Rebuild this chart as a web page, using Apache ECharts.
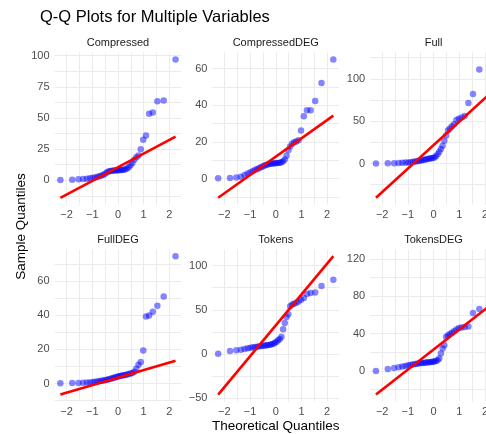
<!DOCTYPE html>
<html><head><meta charset="utf-8">
<script src="https://cdn.jsdelivr.net/npm/echarts@6/dist/echarts.min.js"></script>
<style>html,body{margin:0;padding:0;background:#fff}#c{width:486px;height:434px}</style>
</head><body><div id="c"></div>
<script>
// ---------- data ----------
const panelNames = ['Compressed', 'CompressedDEG', 'Full', 'FullDEG', 'Tokens', 'TokensDEG'];

// theoretical normal quantiles for n = 40 samples
const theoretical = [-2.241, -1.780, -1.534, -1.356, -1.213, -1.092, -0.984, -0.887, -0.798, -0.714,
  -0.636, -0.561, -0.489, -0.419, -0.352, -0.286, -0.221, -0.157, -0.094, -0.031,
  0.031, 0.094, 0.157, 0.221, 0.286, 0.352, 0.419, 0.489, 0.561, 0.636,
  0.714, 0.798, 0.887, 0.984, 1.092, 1.213, 1.356, 1.534, 1.780, 2.241];

const compressed = [0.3, 0.5, 0.8, 1.0, 1.3, 1.6, 2.0, 2.3, 2.8, 3.2, 3.8, 4.5, 5.5, 6.5, 7.2, 7.5, 7.7, 7.8, 7.9, 8.0,
  8.1, 8.2, 8.3, 8.5, 8.8, 9.5, 10.5, 12, 14, 16.5, 18.5, 20, 25, 32.5, 36, 53.5, 54.5, 63.5, 64, 97];
const compressedDEG = [0.2, 0.4, 0.7, 1.0, 2.0, 2.8, 3.5, 4.2, 4.8, 5.3, 5.8, 6.3, 6.8, 7.3, 7.6, 7.9, 8.1, 8.2, 8.3, 8.4,
  8.5, 8.6, 8.7, 8.9, 9.5, 10.5, 12.5, 15.5, 17.5, 19, 19.8, 20.3, 21, 26.3, 34, 37.3, 37.3, 42.3, 52.2, 65];
const full = [0, 0.2, 0.4, 0.6, 0.9, 1.1, 1.3, 1.6, 2.0, 2.4, 2.8, 3.2, 3.6, 4.0, 4.5, 5.0, 5.4, 5.8, 6.2, 6.6,
  7.0, 8.5, 11, 14, 17, 21, 27, 33, 39, 41.5, 44, 46.5, 51.5, 53, 54.5, 56, 71.4, 82, 111, 123];
const fullDEG = [0.2, 0.3, 0.4, 0.5, 0.6, 0.7, 0.9, 1.1, 1.3, 1.5, 1.7, 1.9, 2.1, 2.3, 2.5, 2.8, 3.1, 3.4, 3.7, 4.0,
  4.3, 4.5, 4.7, 4.9, 5.1, 5.3, 5.6, 5.9, 6.2, 7, 8.7, 11, 12.6, 19.4, 39.2, 39.8, 42.1, 45.6, 50.9, 74.5];
const tokens = [0.3, 3.4, 4.3, 5.0, 5.8, 6.5, 7.2, 7.6, 8.0, 8.4, 8.7, 9.0, 9.3, 9.6, 9.9, 10.2, 10.6, 11.1, 11.8, 12.8,
  14, 15.5, 17, 19.5, 28, 35, 42, 45, 54, 56, 57, 58, 59.5, 61.4, 63.3, 67.8, 69, 69.7, 76.9, 84];
const tokensDEG = [0, 2.1, 3.0, 3.8, 4.6, 5.3, 6.0, 6.5, 7.0, 7.4, 7.8, 8.1, 8.4, 8.6, 8.8, 9.0, 9.2, 9.4, 9.6, 9.8,
  10, 10.6, 11.5, 13.4, 18.7, 24, 27.5, 36.4, 38.1, 39.5, 41, 42.4, 44.5, 45.9, 46.5, 47, 47.7, 62.2, 66.4, 123];

const sampleValues = [compressed, compressedDEG, full, fullDEG, tokens, tokensDEG];

// reference line (y at the first and last theoretical quantile)
const qqLineLeft = [-14, -10.4, -40.5, -6.4, -45.8, -25.4];
const qqLineRight = [35, 34.4, 83.9, 13.4, 110.6, 71];

// axis limits and ticks
const xLimits = [-2.465, 2.465];
const xMajorTicks = [-2, -1, 0, 1, 2];
const xMinorTicks = [-1.5, -0.5, 0.5, 1.5];
const yMin = [-19.55, -14.2, -48.7, -10.45, -53.6, -32.8];
const yMax = [102.55, 68.8, 131.2, 78.55, 118.4, 130.4];
const yMajorTicks = [[0, 25, 50, 75, 100], [0, 20, 40, 60], [0, 50, 100], [0, 20, 40, 60], [-50, 0, 50, 100], [0, 40, 80, 120]];
const yMinorTicks = [[-12.5, 12.5, 37.5, 62.5, 87.5], [-10, 10, 30, 50], [-25, 25, 75, 125], [-10, 10, 30, 50, 70], [-25, 25, 75], [-20, 20, 60, 100]];

// ---------- chart ----------
const FONT = '"Liberation Sans", Arial, Helvetica, sans-serif';
const gridLeft = [54.6, 212.4, 370.2];
const gridTop = [52.5, 249.3];
const gridW = 126.7, gridH = 152.2;
const fmt = v => (v < 0 ? '\u2212' + Math.abs(v) : String(v));
const merge = (a, b) => a.concat(b).sort((p, q) => p - q);

const grids = [], xAxes = [], yAxes = [], series = [], graphics = [];
for (let i = 0; i < 6; i++) {
  const col = i % 3, row = Math.floor(i / 3);
  grids.push({ left: gridLeft[col], top: gridTop[row], width: gridW, height: gridH, containLabel: false, outerBoundsMode: 'none' });
  xAxes.push({
    type: 'value', gridIndex: i, min: xLimits[0], max: xLimits[1],
    axisLine: { show: false },
    axisTick: { show: false, customValues: merge(xMajorTicks, xMinorTicks) },
    axisLabel: { customValues: xMajorTicks, formatter: fmt, color: '#4d4d4d', fontSize: 11, fontFamily: FONT, margin: 5 },
    splitLine: { show: true, lineStyle: { color: '#ebebeb', width: 1 } }
  });
  yAxes.push({
    type: 'value', gridIndex: i, min: yMin[i], max: yMax[i],
    axisLine: { show: false },
    axisTick: { show: false, customValues: merge(yMajorTicks[i], yMinorTicks[i]) },
    axisLabel: { customValues: yMajorTicks[i], formatter: fmt, color: '#4d4d4d', fontSize: 11, fontFamily: FONT, margin: 5 },
    splitLine: { show: true, lineStyle: { color: '#ebebeb', width: 1 } }
  });
  series.push({
    type: 'scatter', xAxisIndex: i, yAxisIndex: i, symbolSize: 6.5,
    itemStyle: { color: 'rgba(0,0,255,0.6)' },
    data: theoretical.map((x, k) => [x, sampleValues[i][k]]), z: 2
  });
  series.push({
    type: 'line', xAxisIndex: i, yAxisIndex: i, symbol: 'none', z: 3,
    lineStyle: { color: '#ff0000', width: 2.6 },
    data: [[theoretical[0], qqLineLeft[i]], [theoretical[theoretical.length - 1], qqLineRight[i]]]
  });
  graphics.push({
    type: 'text', x: gridLeft[col] + gridW / 2, y: gridTop[row] - 9.5,
    style: { text: panelNames[i], align: 'center', verticalAlign: 'middle', fontSize: 11, fontFamily: FONT, fill: '#1a1a1a' }
  });
}
graphics.push({
  type: 'text', x: 40, y: 17,
  style: { text: 'Q-Q Plots for Multiple Variables', align: 'left', verticalAlign: 'middle', fontSize: 16.5, fontFamily: FONT, fill: '#000' }
});
graphics.push({
  type: 'text', x: 275.7, y: 426,
  style: { text: 'Theoretical Quantiles', align: 'center', verticalAlign: 'middle', fontSize: 13.5, fontFamily: FONT, fill: '#000' }
});
graphics.push({
  type: 'text', x: 21, y: 226.5, rotation: Math.PI / 2,
  style: { text: 'Sample Quantiles', align: 'center', verticalAlign: 'middle', fontSize: 13.5, fontFamily: FONT, fill: '#000' }
});

const chart = echarts.init(document.getElementById('c'), null, { renderer: 'canvas' });
chart.setOption({
  animation: false,
  backgroundColor: '#ffffff',
  grid: grids, xAxis: xAxes, yAxis: yAxes, series: series, graphic: graphics
});
</script>
</body></html>
